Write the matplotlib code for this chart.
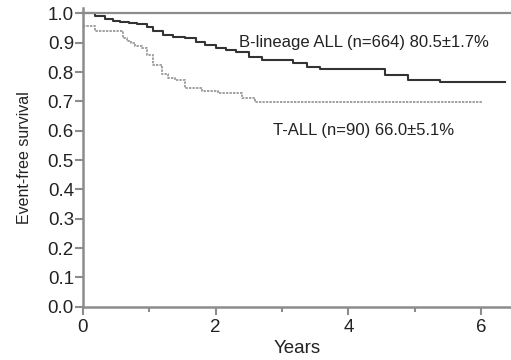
import matplotlib
matplotlib.use('Agg')
import matplotlib.pyplot as plt

# Kaplan-Meier step curves (years, event-free survival)
b_years = [0.0, 0.18, 0.33, 0.45, 0.56, 0.70, 0.81, 0.96, 1.06, 1.20, 1.35,
           1.54, 1.70, 1.84, 2.00, 2.15, 2.30, 2.50, 2.70, 3.17, 3.38, 3.57,
           4.55, 4.90, 5.38, 6.36]
b_surv = [1.0, 0.99, 0.98, 0.975, 0.971, 0.967, 0.963, 0.954, 0.94, 0.926, 0.921,
          0.915, 0.903, 0.892, 0.883, 0.876, 0.869, 0.85, 0.841, 0.83, 0.818, 0.809,
          0.79, 0.773, 0.766, 0.766]

t_years = [0.0, 0.18, 0.60, 0.66, 0.72, 0.78, 0.89, 0.97, 1.06, 1.19, 1.28,
           1.39, 1.54, 1.79, 2.04, 2.40, 2.59, 6.01]
t_surv = [0.957, 0.94, 0.915, 0.906, 0.898, 0.889, 0.881, 0.858, 0.824, 0.795, 0.78,
          0.773, 0.745, 0.735, 0.728, 0.711, 0.699, 0.699]

b_label = 'B-lineage ALL (n=664) 80.5±1.7%'
t_label = 'T-ALL (n=90) 66.0±5.1%'
y_ticks = [0.0, 0.1, 0.2, 0.3, 0.4, 0.5, 0.6, 0.7, 0.8, 0.9, 1.0]
x_ticks = [0, 2, 4, 6]
x_minor = [1, 3, 5]

fonts = ['Liberation Sans', 'DejaVu Sans']
axis_grey = '#8c8c8c'

fig = plt.figure(figsize=(5.11, 3.6), dpi=100)
ax = fig.add_axes([0.1624, 0.148, 0.8376, 0.831])

ax.step(b_years, b_surv, where='post', color='#333333', lw=1.5)
ax.step(t_years, t_surv, where='post', color='#a0a0a0', lw=1.4,
        linestyle=(0, (1.2, 0.6)))
ax.axhline(1.0, color=axis_grey, lw=1.6)

ax.set_xlim(0, 6.45)
ax.set_ylim(0, 1.02)
ax.set_yticks(y_ticks)
ax.set_yticklabels([f'{v:.1f}' for v in y_ticks])
ax.set_xticks(x_ticks)
ax.set_xticks(x_minor, minor=True)

for side in ['top', 'right']:
    ax.spines[side].set_visible(False)
for side in ['left', 'bottom']:
    ax.spines[side].set_color(axis_grey)
    ax.spines[side].set_linewidth(1.8)

ax.tick_params(axis='y', which='major', direction='out', length=5.5, width=1.5,
               color=axis_grey, labelsize=13.5, labelcolor='#222222', pad=1)
ax.tick_params(axis='x', which='major', direction='out', length=5.5, width=1.5,
               color=axis_grey, labelsize=13.5, labelcolor='#222222', pad=3.5)
ax.tick_params(axis='x', which='minor', direction='out', length=3.5, width=1.5,
               color=axis_grey)
for lab in ax.get_xticklabels() + ax.get_yticklabels():
    lab.set_family(fonts)

ax.set_xlabel('Years', fontsize=13.5, family=fonts, color='#222222', labelpad=3)
ax.set_ylabel('Event-free survival', fontsize=11.5, family=fonts, color='#222222',
              labelpad=11)

ax.text(2.35, 0.90, b_label, fontsize=12, family=fonts, color='#222222',
        ha='left', va='center')
ax.text(2.86, 0.60, t_label, fontsize=12, family=fonts, color='#222222',
        ha='left', va='center')

fig.savefig('out.png', dpi=100)
